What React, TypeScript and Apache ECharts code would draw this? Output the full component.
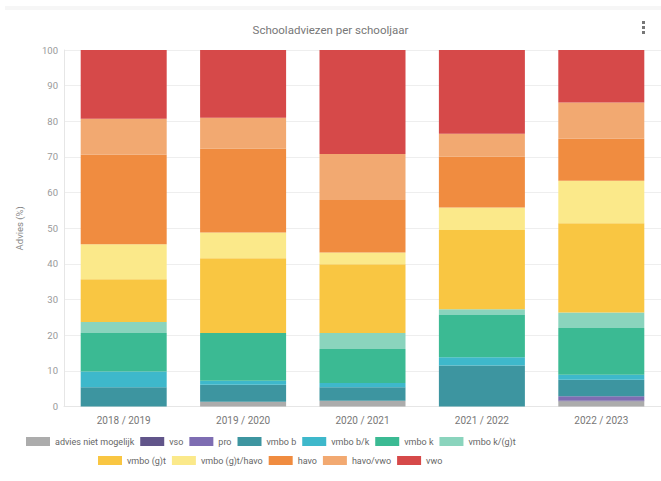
import React, { useEffect, useRef } from "react";
import * as echarts from "echarts";

const categories = ["2018 / 2019", "2019 / 2020", "2020 / 2021", "2021 / 2022", "2022 / 2023"];

const seriesNames = [
  "advies niet mogelijk",
  "vso",
  "pro",
  "vmbo b",
  "vmbo b/k",
  "vmbo k",
  "vmbo k/(g)t",
  "vmbo (g)t",
  "vmbo (g)t/havo",
  "havo",
  "havo/vwo",
  "vwo",
];

const adviesNietMogelijk = [0, 1.3, 1.6, 0, 1.5];
const vso = [0, 0, 0, 0, 0.2];
const pro = [0, 0, 0, 0, 1.2];
const vmboB = [5.4, 4.8, 3.8, 11.5, 4.6];
const vmboBK = [4.4, 1.1, 1.2, 2.3, 1.4];
const vmboK = [10.8, 13.4, 9.5, 11.9, 13.1];
const vmboKGT = [3.1, 0, 4.5, 1.6, 4.4];
const vmboGT = [12.0, 21.0, 19.3, 22.2, 25.0];
const vmboGTHavo = [9.8, 7.2, 3.3, 6.3, 11.9];
const havo = [25.1, 23.6, 14.7, 14.3, 11.8];
const havoVwo = [10.1, 8.6, 12.9, 6.4, 10.2];
const vwo = [19.3, 19.0, 29.2, 23.5, 14.7];

const yTicks = [0, 10, 20, 30, 40, 50, 60, 70, 80, 90, 100];

const seriesValues = [
  adviesNietMogelijk, vso, pro, vmboB, vmboBK, vmboK, vmboKGT, vmboGT, vmboGTHavo, havo, havoVwo, vwo,
];

const colors = [
  "#a9a9a9", "#5c4f86", "#7a68b0", "#37929d", "#38b6c9", "#35b88f", "#86d3bb",
  "#f9c43c", "#fbe886", "#f0883a", "#f2a66c", "#d54343",
];

export default function App() {
  const ref = useRef<HTMLDivElement>(null);
  useEffect(() => {
    document.body.style.margin = "0";
    if (!ref.current) return;
    const chart = echarts.init(ref.current, undefined, { renderer: "svg" });
    const font = "Roboto";
    const legendText = { color: "#666", fontSize: 9, fontFamily: font, padding: [0, 0, 0, 0] };
    chart.setOption({
      animation: false,
      color: colors,
      title: {
        text: "Schooladviezen per schooljaar",
        left: "center",
        top: 19,
        textStyle: { color: "#777", fontSize: 11.5, fontWeight: "normal", fontFamily: font },
      },
      graphic: [
        { type: "rect", shape: { x: 5, y: 6, width: 656, height: 4 }, style: { fill: "#f6f6f6" } },
        { type: "rect", shape: { x: 642, y: 21, width: 3, height: 3 }, style: { fill: "#777" } },
        { type: "rect", shape: { x: 642, y: 26, width: 3, height: 3 }, style: { fill: "#777" } },
        { type: "rect", shape: { x: 642, y: 31, width: 3, height: 3 }, style: { fill: "#777" } },
      ],
      legend: [
        {
          data: seriesNames.slice(0, 7),
          top: 437,
          left: 26,
          padding: 0,
          itemWidth: 24,
          itemHeight: 9,
          itemGap: 6,
          icon: "rect",
          textStyle: legendText,
        },
        {
          data: seriesNames.slice(7),
          top: 456,
          left: 98,
          padding: 0,
          itemWidth: 24,
          itemHeight: 9,
          itemGap: 6,
          icon: "rect",
          textStyle: legendText,
        },
      ],
      grid: { left: 64, top: 50, width: 600, height: 356.5 },
      xAxis: {
        type: "category",
        data: categories,
        axisLine: { lineStyle: { color: "#e6e6e6" } },
        axisTick: { show: false },
        axisLabel: { color: "#777", fontSize: 10, fontFamily: font, margin: 9 },
      },
      yAxis: {
        type: "value",
        min: yTicks[0],
        max: yTicks[yTicks.length - 1],
        interval: 10,
        name: "Advies (%)",
        nameLocation: "middle",
        nameGap: 40,
        nameTextStyle: { color: "#888", fontSize: 9.5, fontFamily: font },
        axisLine: { show: true, lineStyle: { color: "#e6e6e6" } },
        axisTick: { show: false },
        splitLine: { lineStyle: { color: "#eeeeee" } },
        axisLabel: { color: "#999", fontSize: 9.5, fontFamily: font, margin: 6 },
      },
      series: seriesNames.map((name, i) => ({
        name,
        type: "bar",
        stack: "total",
        barWidth: 86,
        data: seriesValues[i],
        itemStyle: { color: colors[i], opacity: 0.97 },
      })),
    });
    return () => chart.dispose();
  }, []);
  return <div ref={ref} style={{ width: 661, height: 481 }} />;
}
